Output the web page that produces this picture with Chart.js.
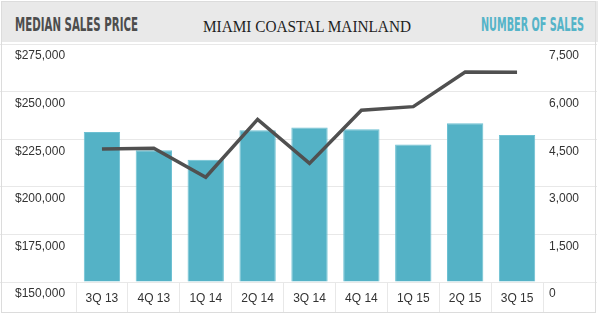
<!DOCTYPE html>
<html>
<head>
<meta charset="utf-8">
<script src="https://cdn.jsdelivr.net/npm/chart.js@4"></script>
<style>
  html, body { margin: 0; padding: 0; background: #fff; }
  #wrap { position: relative; width: 600px; height: 321px; overflow: hidden; }
  #c { position: absolute; left: 0; top: 0; }
  #frame { position: absolute; left: 1px; top: 1px; width: 595px; height: 312px; border: 1px solid #dcdcdc; box-sizing: border-box; pointer-events: none; }
  #header { position: absolute; left: 1px; top: 1px; width: 597px; height: 41px; background: #e9e9e9; }
  .h { position: absolute; white-space: nowrap; line-height: 1; transform-origin: 0 0; display: inline-block; }
  .cond { font-family: "Liberation Sans Narrow", "DejaVu Sans Condensed", "Liberation Sans", sans-serif; font-weight: bold; font-size: 19px; }
  #lt { left: 15px; top: 15px; color: #4d4d4d; }
  #rt { left: 481px; top: 15px; color: #55b4c8; }
  #ct { left: 203px; top: 18px; font-family: "Liberation Serif", "DejaVu Serif", serif; font-size: 17px; color: #1e1e1e; }
</style>
</head>
<body>
<div id="wrap">
  <canvas id="c" width="600" height="321"></canvas>
  <div id="header"></div>
  <div id="frame"></div>
  <span class="h cond" id="lt">MEDIAN SALES PRICE</span>
  <span class="h" id="ct">MIAMI COASTAL MAINLAND</span>
  <span class="h cond" id="rt">NUMBER OF SALES</span>
</div>
<script>
const quarters = ["3Q 13", "4Q 13", "1Q 14", "2Q 14", "3Q 14", "4Q 14", "1Q 15", "2Q 15", "3Q 15"];
const numberOfSales = [4730, 4150, 3850, 4780, 4870, 4810, 4330, 5000, 4630];
const medianSalesPrice = [219800, 220200, 205000, 235400, 212300, 240200, 242100, 260300, 260200];
const priceTicks = [150000, 175000, 200000, 225000, 250000, 275000];
const salesTicks = [0, 1500, 3000, 4500, 6000, 7500];

function fitWidth(id, w) {
  const el = document.getElementById(id);
  const cur = el.getBoundingClientRect().width;
  el.style.transform = 'scaleX(' + (w / cur) + ')';
}
fitWidth('lt', 123);
fitWidth('ct', 208);
fitWidth('rt', 103);

const gridCol = '#e8e8e8';
const tickFont = { family: '"Liberation Sans", Arial, sans-serif', size: 12 };

new Chart(document.getElementById('c'), {
  type: 'bar',
  data: {
    labels: quarters,
    datasets: [
      {
        type: 'line',
        label: 'Median Sales Price',
        data: medianSalesPrice,
        yAxisID: 'y',
        borderColor: '#505050',
        borderWidth: 3.5,
        tension: 0,
        pointRadius: 0,
        pointHoverRadius: 0,
        fill: false,
        order: 0
      },
      {
        type: 'bar',
        label: 'Number of Sales',
        data: numberOfSales,
        yAxisID: 'y1',
        backgroundColor: '#54b2c6',
        borderColor: '#6cc0d2',
        borderWidth: 1,
        barPercentage: 0.7,
        categoryPercentage: 1,
        order: 1
      }
    ]
  },
  options: {
    responsive: false,
    animation: false,
    layout: { padding: { left: 15, right: 3, top: 44, bottom: 8 } },
    plugins: { legend: { display: false }, tooltip: { enabled: false }, title: { display: false } },
    scales: {
      x: {
        type: 'category',
        offset: true,
        border: { display: false },
        grid: { offset: true, drawOnChartArea: false, drawTicks: true, tickLength: 31, tickColor: gridCol, color: gridCol, lineWidth: 1 },
        ticks: { font: tickFont, color: '#333', padding: -22, maxRotation: 0, autoSkip: false },
        afterFit: s => { s.height = 31; }
      },
      y: {
        position: 'left',
        min: 150000,
        max: 275000,
        border: { display: false },
        grid: { color: gridCol, tickColor: gridCol, drawTicks: true, tickLength: 76, lineWidth: 1 },
        afterBuildTicks: s => { s.ticks = priceTicks.map(v => ({ value: v })); },
        ticks: {
          font: tickFont, color: '#333', crossAlign: 'far', labelOffset: 12, padding: 0,
          callback: v => '$' + Number(v).toLocaleString('en-US')
        },
        afterFit: s => { s.width = 61; }
      },
      y1: {
        position: 'right',
        min: 0,
        max: 7500,
        border: { display: false },
        grid: { drawOnChartArea: false, color: gridCol, tickColor: gridCol, drawTicks: true, tickLength: 54, lineWidth: 1 },
        afterBuildTicks: s => { s.ticks = salesTicks.map(v => ({ value: v })); },
        ticks: {
          font: tickFont, color: '#333', crossAlign: 'near', labelOffset: 12, padding: -48,
          callback: v => Number(v).toLocaleString('en-US')
        },
        afterFit: s => { s.width = 54; }
      }
    }
  }
});
</script>
</body>
</html>
